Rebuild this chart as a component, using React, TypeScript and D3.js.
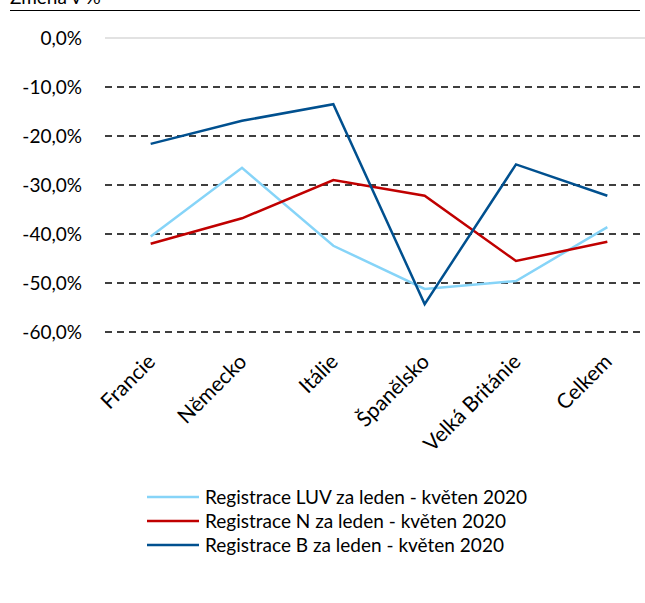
import { useEffect, useRef } from "react";
import * as d3 from "d3";

const categories = ["Francie", "Německo", "Itálie", "Španělsko", "Velká Británie", "Celkem"];
const luvValues = [-40.5, -26.5, -42.4, -51.2, -49.6, -38.6];
const nValues = [-42.0, -36.8, -29.0, -32.2, -45.5, -41.6];
const bValues = [-21.6, -16.9, -13.5, -54.3, -25.8, -32.2];
const yTicks = [0, -10, -20, -30, -40, -50, -60];
const seriesNames = [
  "Registrace LUV za leden - květen 2020",
  "Registrace N za leden - květen 2020",
  "Registrace B za leden - květen 2020",
];
const seriesColors = ["#86D4F8", "#C00000", "#00508F"];

const App = () => {
  const svgRef = useRef<SVGSVGElement>(null);

  useEffect(() => {
    const width = 645;
    const height = 603;
    const font = "Lato, 'Noto Sans', sans-serif";
    const fs = 19;

    const svg = d3.select(svgRef.current);
    svg.selectAll("*").remove();

    // plot area
    const left = 105;
    const right = 653;
    const top = 38;
    const bottom = 332;

    const x = d3.scaleBand().domain(categories).range([left, right]);
    const y = d3.scaleLinear().domain([0, -60]).range([top, bottom]);

    // title (cut off at the top like the source) and top rule
    svg.append("text")
      .attr("x", 10)
      .attr("y", 4)
      .attr("font-family", font)
      .attr("font-size", fs)
      .attr("fill", "#000")
      .text("Změna v %");
    svg.append("line")
      .attr("x1", 10).attr("x2", 640)
      .attr("y1", 10.5).attr("y2", 10.5)
      .attr("stroke", "#000")
      .attr("stroke-width", 1.2);

    // gridlines
    svg.append("g")
      .selectAll("line")
      .data(yTicks)
      .join("line")
      .attr("x1", left)
      .attr("x2", width)
      .attr("y1", (d) => y(d))
      .attr("y2", (d) => y(d))
      .attr("stroke", (d) => (d === 0 ? "#d9d9d9" : "#000"))
      .attr("stroke-width", 1.5)
      .attr("stroke-dasharray", (d) => (d === 0 ? null : "7,5"));

    // y labels
    svg.append("g")
      .selectAll("text")
      .data(yTicks)
      .join("text")
      .attr("x", 82)
      .attr("y", (d) => y(d))
      .attr("dy", "0.35em")
      .attr("text-anchor", "end")
      .attr("font-family", font)
      .attr("font-size", fs)
      .attr("fill", "#000")
      .text((d) => d3.format(".1f")(d).replace(".", ",").replace("−", "-") + "%");

    // x labels
    svg.append("g")
      .selectAll("text")
      .data(categories)
      .join("text")
      .attr("transform", (d) => `translate(${x(d)! + x.bandwidth() / 2 + 6}, ${bottom + 31}) rotate(-45)`)
      .attr("text-anchor", "end")
      .attr("font-family", font)
      .attr("font-size", 21)
      .attr("fill", "#000")
      .text((d) => d);

    // lines
    const line = d3.line<number>()
      .x((_, i) => x(categories[i])! + x.bandwidth() / 2)
      .y((d) => y(d));

    [luvValues, nValues, bValues].forEach((vals, i) => {
      svg.append("path")
        .datum(vals)
        .attr("d", line)
        .attr("fill", "none")
        .attr("stroke", seriesColors[i])
        .attr("stroke-width", 2.5)
        .attr("stroke-linejoin", "miter");
    });

    // legend
    const legend = svg.append("g")
      .selectAll("g")
      .data(seriesNames)
      .join("g")
      .attr("transform", (_, i) => `translate(147, ${497 + i * 24})`);
    legend.append("line")
      .attr("x1", 0).attr("x2", 52)
      .attr("stroke", (_, i) => seriesColors[i])
      .attr("stroke-width", 2.5);
    legend.append("text")
      .attr("x", 58)
      .attr("dy", "0.35em")
      .attr("font-family", font)
      .attr("font-size", fs)
      .attr("fill", "#000")
      .text((d) => d);
  }, []);

  return (
    <svg
      ref={svgRef}
      width={645}
      height={603}
      style={{ position: "absolute", left: 0, top: 0, background: "#fff" }}
    />
  );
};

export default App;
